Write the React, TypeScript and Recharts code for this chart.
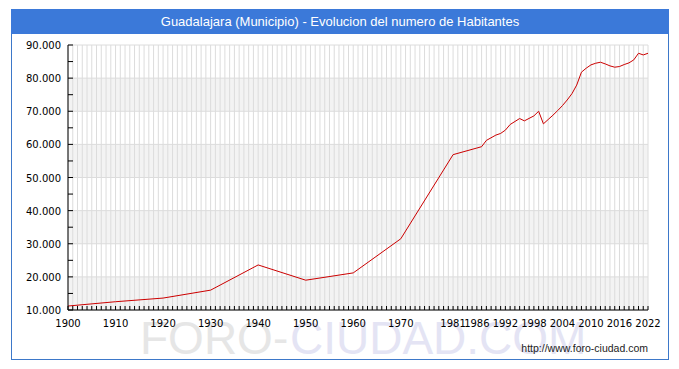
import React from 'react';
import { LineChart, Line, XAxis, YAxis, CartesianGrid } from 'recharts';

const years = [
  1900, 1910, 1920, 1930, 1940, 1950, 1960, 1970, 1981, 1986, 1987, 1988, 1990, 1991,
  1992, 1993, 1995, 1996, 1998, 1999, 2000, 2001, 2002, 2003, 2004, 2005, 2006, 2007,
  2008, 2009, 2010, 2011, 2012, 2013, 2014, 2015, 2016, 2017, 2018, 2019, 2020, 2021, 2022
];
const habitantes = [
  11200, 12500, 13600, 16000, 23600, 19000, 21200, 31500, 56900, 58900, 59300, 61200, 62800, 63300,
  64300, 66000, 67800, 67100, 68600, 70000, 66200, 67500, 68800, 70200, 71700, 73400, 75300, 77900,
  81800, 83000, 84000, 84500, 84800, 84300, 83700, 83300, 83500, 84100, 84600, 85500, 87500, 87000, 87500
];

const xLabels = [1900, 1910, 1920, 1930, 1940, 1950, 1960, 1970, 1981, 1986, 1992, 1998, 2004, 2010, 2016, 2022];
const yTicks = [10000, 15000, 20000, 25000, 30000, 35000, 40000, 45000, 50000, 55000, 60000, 65000, 70000, 75000, 80000, 85000, 90000];
const yGrid = [10000, 20000, 30000, 40000, 50000, 60000, 70000, 80000, 90000];
// one tick (and grid line) per year
const xTicks = Array.from({ length: 2022 - 1900 + 1 }, (_, i) => 1900 + i);

const data = years.map((y, i) => ({ year: y, value: habitantes[i] }));

const fmt = (v: number) => (v / 1000) + '.000';

const XTick = (props: any) => {
  const { x, y, payload } = props;
  const show = xLabels.includes(payload.value);
  return (
    <g>
      <line x1={x} y1={y} x2={x} y2={y - 4} stroke="#000" strokeWidth={1} />
      {show && (
        <text x={x} y={y + 17} textAnchor="middle" fill="#000" fontSize={10} fontFamily="DejaVu Sans">
          {payload.value}
        </text>
      )}
    </g>
  );
};

const YTick = (props: any) => {
  const { x, y, payload } = props;
  const show = payload.value % 10000 === 0;
  return (
    <g>
      <line x1={x} y1={y} x2={x + 5} y2={y} stroke="#000" strokeWidth={1} />
      {show && (
        <text x={x - 7} y={y + 4} textAnchor="end" fill="#000" fontSize={10} fontFamily="DejaVu Sans">
          {fmt(payload.value)}
        </text>
      )}
    </g>
  );
};

export default function App() {
  return (
    <div style={{ position: 'absolute', left: 0, top: 0, width: 679, height: 369, background: '#fff' }}>
      <svg width={679} height={369} style={{ position: 'absolute', left: 0, top: 0 }}>
        <text x={140} y={354} fontSize={46} fontFamily="Liberation Sans" fill="#e6e6e6">FORO-</text>
        <text x={290} y={354} fontSize={46} fontFamily="Liberation Sans" fill="#e4e4f4">CIUDAD.COM</text>
        <text x={648} y={352} fontSize={10.5} fontFamily="Liberation Sans" fill="#222" textAnchor="end">
          http://www.foro-ciudad.com
        </text>
      </svg>
      <div
        style={{
          position: 'absolute', left: 11, top: 9, width: 656, height: 349,
          border: '1px solid #3d78c9'
        }}
      />
      <div
        style={{
          position: 'absolute', left: 11, top: 9, width: 658, height: 25, background: '#3b79d9',
          color: '#fff', fontFamily: 'Liberation Sans', fontSize: 13, lineHeight: '25px', textAlign: 'center'
        }}
      >
        Guadalajara (Municipio) - Evolucion del numero de Habitantes
      </div>
      <div style={{ position: 'absolute', left: 0, top: 0 }}>
        <LineChart width={679} height={369} data={data} margin={{ top: 45, right: 31, bottom: 0, left: 0 }}>
          <CartesianGrid
            stroke="#dcdcdc"
            horizontalValues={yGrid}
            horizontalFill={['#ffffff', '#f3f3f3']}
            fillOpacity={1}
          />
          <XAxis
            dataKey="year"
            type="number"
            domain={[1900, 2022]}
            ticks={xTicks}
            interval={0}
            height={59}
            tickSize={0}
            tickMargin={0}
            tickLine={false}
            axisLine={{ stroke: '#000' }}
            tick={<XTick />}
          />
          <YAxis
            type="number"
            domain={[10000, 90000]}
            ticks={yTicks}
            interval={0}
            width={68}
            tickSize={0}
            tickMargin={0}
            tickLine={false}
            axisLine={{ stroke: '#000' }}
            tick={<YTick />}
          />
          <Line
            type="linear"
            dataKey="value"
            stroke="#cc0000"
            strokeWidth={1}
            dot={false}
            isAnimationActive={false}
          />
        </LineChart>
      </div>
    </div>
  );
}
